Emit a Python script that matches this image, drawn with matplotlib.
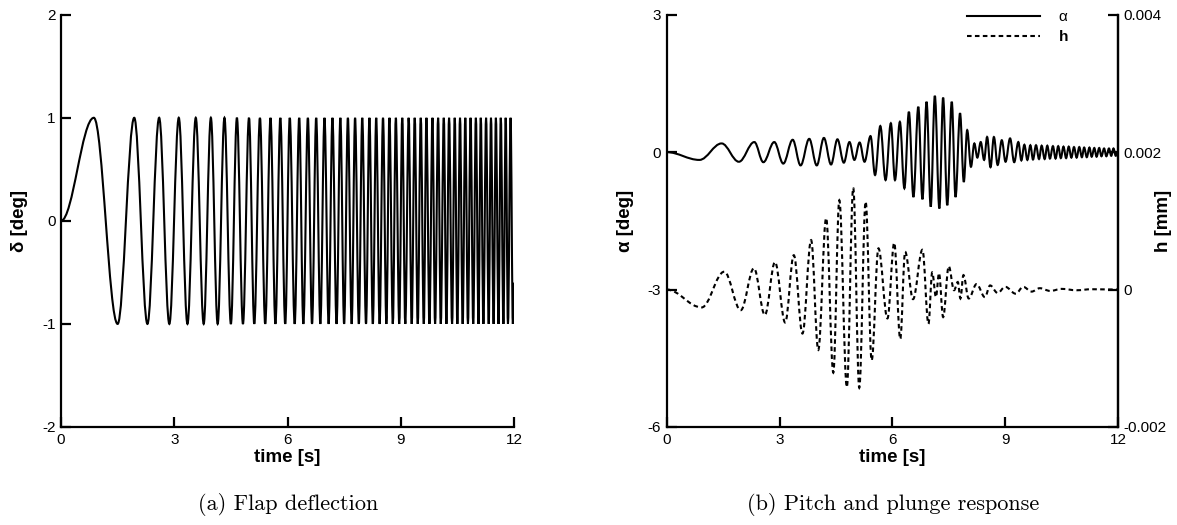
import matplotlib
matplotlib.use("Agg")
import matplotlib.pyplot as plt
from matplotlib.path import Path
from matplotlib.patches import PathPatch
from matplotlib.lines import Line2D

plt.rcParams['font.family'] = ['Liberation Sans', 'DejaVu Sans']

# ---------------------------------------------------------------
# data (extrema of each signal)
# ---------------------------------------------------------------
# (a) flap deflection: times of the maxima (+1 deg) and minima (-1 deg)
delta_max_t = [0.87, 1.94, 2.60, 3.12, 3.57, 3.97, 4.33, 4.66, 4.98, 5.27,
               5.55, 5.81, 6.06, 6.31, 6.54, 6.76, 6.98, 7.19, 7.40, 7.60,
               7.79, 7.98, 8.17, 8.35, 8.53, 8.70, 8.87, 9.04, 9.21, 9.37,
               9.53, 9.68, 9.84, 9.99, 10.14, 10.28, 10.43, 10.57, 10.71, 10.85,
               10.99, 11.12, 11.26, 11.39, 11.52, 11.65, 11.78, 11.91]
delta_min_t = [1.50, 2.29, 2.87, 3.35, 3.78, 4.15, 4.50, 4.82, 5.12, 5.41,
               5.68, 5.94, 6.19, 6.42, 6.65, 6.87, 7.09, 7.30, 7.50, 7.70,
               7.89, 8.08, 8.26, 8.44, 8.62, 8.79, 8.96, 9.12, 9.29, 9.45,
               9.61, 9.76, 9.91, 10.06, 10.21, 10.36, 10.50, 10.64, 10.78, 10.92,
               11.06, 11.19, 11.33, 11.46, 11.59, 11.72, 11.84, 11.97]
delta_max_val = 1.0
delta_min_val = -1.0
delta_start = (0.0, 0.0)
delta_end = (12.0, -0.6)

# (b) pitch alpha [deg]
alpha_t = [0.00, 0.87, 1.46, 1.92, 2.33, 2.57, 2.86, 3.10, 3.35, 3.56,
           3.79, 3.99, 4.18, 4.37, 4.54, 4.71, 4.86, 4.99, 5.13, 5.26,
           5.42, 5.54, 5.68, 5.82, 5.96, 6.07, 6.20, 6.32, 6.44, 6.56,
           6.69, 6.80, 6.91, 7.02, 7.13, 7.25, 7.35, 7.46, 7.58, 7.68,
           7.80, 7.90, 7.99, 8.09, 8.18, 8.26, 8.35, 8.44, 8.52, 8.61,
           8.70, 8.80, 8.91, 9.01, 9.13, 9.24, 9.35, 9.43, 9.51, 9.59,
           9.67, 9.74, 9.82, 9.90, 9.97, 10.05, 10.12, 10.19, 10.27, 10.34,
           10.41, 10.48, 10.55, 10.62, 10.69, 10.76, 10.83, 10.90, 10.97, 11.04,
           11.10, 11.17, 11.24, 11.30, 11.37, 11.43, 11.50, 11.56, 11.63, 11.69,
           11.76, 11.82, 11.88, 11.94, 12.00]
alpha_v = [0.00, -0.17, 0.19, -0.21, 0.22, -0.22, 0.22, -0.25, 0.27, -0.29,
           0.29, -0.29, 0.31, -0.27, 0.28, -0.23, 0.22, -0.17, 0.21, -0.21,
           0.35, -0.50, 0.57, -0.61, 0.63, -0.61, 0.66, -0.79, 0.88, -0.98,
           0.99, -1.03, 1.10, -1.19, 1.23, -1.23, 1.19, -1.16, 1.10, -0.98,
           0.85, -0.65, 0.48, -0.32, 0.19, -0.12, 0.22, -0.17, 0.33, -0.33,
           0.33, -0.28, 0.26, -0.21, 0.30, -0.22, 0.22, -0.18, 0.16, -0.17,
           0.15, -0.16, 0.15, -0.15, 0.14, -0.15, 0.14, -0.14, 0.13, -0.14,
           0.13, -0.13, 0.12, -0.13, 0.12, -0.12, 0.11, -0.12, 0.11, -0.11,
           0.10, -0.11, 0.10, -0.10, 0.09, -0.10, 0.09, -0.09, 0.08, -0.09,
           0.08, -0.08, 0.08, -0.08, 0.00]

# (b) plunge h [mm]
h_t = [0.00, 0.93, 1.53, 1.97, 2.32, 2.61, 2.88, 3.15, 3.38, 3.61,
       3.84, 4.03, 4.24, 4.43, 4.59, 4.79, 4.96, 5.12, 5.29, 5.45,
       5.63, 5.87, 6.05, 6.21, 6.34, 6.55, 6.80, 6.96, 7.06, 7.16,
       7.24, 7.35, 7.50, 7.64, 7.74, 7.81, 7.89, 8.03, 8.24, 8.46,
       8.60, 8.80, 9.00, 9.28, 9.48, 9.70, 9.92, 10.20, 10.50, 10.90,
       11.30, 12.00]
h_v = [0.0, -0.00026, 0.00026, -0.00030, 0.00031, -0.00037, 0.00040, -0.00048, 0.00050, -0.00064,
       0.00072, -0.00088, 0.00104, -0.00121, 0.00130, -0.00142, 0.00148, -0.00143, 0.00128, -0.00103,
       0.00060, -0.00042, 0.00068, -0.00072, 0.00055, -0.00014, 0.00058, -0.00050, 0.00025, -0.00011,
       0.00024, -0.00040, 0.00034, -0.00001, 0.00011, -0.00013, 0.00021, -0.00013, 0.00008, -0.00011,
       0.00006, -0.00005, 0.00004, -0.00006, 0.00004, -0.00003, 0.00002, -0.00002, 0.00001, -0.00001,
       0.000005, 0.0]

time_ticks = [0, 3, 6, 9, 12]
delta_ticks = [-2, -1, 0, 1, 2]
alpha_ticks = [-6, -3, 0, 3]
h_ticks = [-0.002, 0.0, 0.002, 0.004]
h_ticklabels = ['-0.002', '0', '0.002', '0.004']


def smooth_path(t, y):
    # cubic bezier between successive extrema, flat tangents at each extremum
    verts = [(t[0], y[0])]
    codes = [Path.MOVETO]
    for i in range(1, len(t)):
        d = 0.364 * (t[i] - t[i - 1])
        verts += [(t[i - 1] + d, y[i - 1]), (t[i] - d, y[i]), (t[i], y[i])]
        codes += [Path.CURVE4] * 3
    return Path(verts, codes)


def style_axes(ax, spines):
    for s in ['left', 'right', 'top', 'bottom']:
        ax.spines[s].set_visible(s in spines)
        ax.spines[s].set_linewidth(1.6)
    ax.tick_params(direction='in', length=7, width=1.6, labelsize=11, pad=4)


LW = 1.5
DASH = (0, (2.2, 1.6))
W, H = 1177, 525
fig = plt.figure(figsize=(W / 100, H / 100), dpi=100)
axa = fig.add_axes([61 / W, 1 - 427 / H, 453 / W, 412.3 / H])
axb = fig.add_axes([666.7 / W, 1 - 427 / H, 451.3 / W, 412.3 / H])

# ---- (a) flap deflection ----
dt, dv = [delta_start[0]], [delta_start[1]]
for tmax, tmin in zip(delta_max_t, delta_min_t):
    dt += [tmax, tmin]
    dv += [delta_max_val, delta_min_val]
dt.append(delta_end[0]); dv.append(delta_end[1])
axa.add_patch(PathPatch(smooth_path(dt, dv), fill=False, color='k', lw=LW))
axa.set_xlim(0, 12); axa.set_ylim(-2, 2)
axa.set_xticks(time_ticks); axa.set_yticks(delta_ticks)
axa.set_yticklabels([str(v) for v in delta_ticks])
style_axes(axa, ['left', 'bottom'])
axa.set_xlabel('time [s]', fontsize=13.5, fontweight='bold', labelpad=2)
axa.set_ylabel('δ [deg]', fontsize=13.5, fontweight='bold', labelpad=10)

# ---- (b) pitch and plunge ----
axb.add_patch(PathPatch(smooth_path(alpha_t, alpha_v), fill=False, color='k', lw=LW))
axb.set_xlim(0, 12); axb.set_ylim(-6, 3)
axb.set_xticks(time_ticks); axb.set_yticks(alpha_ticks)
axb.set_yticklabels([str(v) for v in alpha_ticks])
style_axes(axb, ['left', 'bottom', 'right'])
axb.set_xlabel('time [s]', fontsize=13.5, fontweight='bold', labelpad=2)
axb.set_ylabel('α [deg]', fontsize=13.5, fontweight='bold', labelpad=10)

axh = axb.twinx()
axh.add_patch(PathPatch(smooth_path(h_t, h_v), fill=False, color='k', lw=LW,
                        linestyle=DASH))
axh.set_ylim(-0.002, 0.004)
axh.set_yticks(h_ticks); axh.set_yticklabels(h_ticklabels)
style_axes(axh, ['right'])
axh.set_ylabel('h [mm]', fontsize=13.5, fontweight='bold', rotation=90,
               va='center')
axh.yaxis.set_label_coords((1163 - 666.7) / 451.3, 0.5 + (221 - 220.9) / 412.3)

handles = [Line2D([], [], color='k', lw=LW),
           Line2D([], [], color='k', lw=LW, linestyle=DASH)]
leg = axb.legend(handles, ['α', 'h'], loc='upper right', frameon=False,
                 bbox_to_anchor=(0.92, 1.045), handlelength=4.8,
                 fontsize=11, labelspacing=0.4, handletextpad=1.2)
leg.get_texts()[1].set_fontweight('bold')

fig.text(288 / W, 1 - 505 / H, '(a) Flap deflection', ha='center', va='center',
         fontfamily='cmr10', fontsize=16)
fig.text(893 / W, 1 - 505 / H, '(b) Pitch and plunge response', ha='center',
         va='center', fontfamily='cmr10', fontsize=16)

fig.savefig('out.png', dpi=100)
